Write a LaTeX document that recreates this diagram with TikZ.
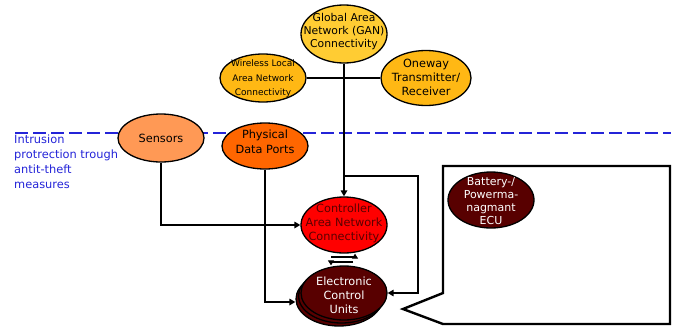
\documentclass[tikz,border=0pt]{standalone}
\usepackage{fontspec}
\setmainfont{DejaVu Sans}
\usetikzlibrary{shapes.geometric,arrows.meta}

\definecolor{ganfill}{HTML}{FFCC33}
\definecolor{wifill}{HTML}{FFB814}
\definecolor{sensfill}{HTML}{FF9955}
\definecolor{portfill}{HTML}{FF6600}
\definecolor{canfill}{HTML}{FF0000}
\definecolor{ecufill}{HTML}{580000}
\definecolor{zoneblue}{HTML}{2424D8}
\definecolor{cantext}{HTML}{5A0000}

\tikzset{
  oval/.style={ellipse, draw=black, line width=1.3pt, inner sep=0pt,
               minimum width=86pt},
  lbl/.style={align=center, inner sep=0pt, font=\fontsize{11.3}{14}\selectfont},
  link/.style={draw=black, line width=1.8pt},
  arr/.style={link, -{Triangle[length=6pt,width=6.5pt]}},
  zoneline/.style={draw=zoneblue, line width=2pt, dash pattern=on 13pt off 5pt}
}

\begin{document}
\begin{tikzpicture}[x=1pt,y=-1pt]
\useasboundingbox (0,0) rectangle (676,329);

% protection boundary
\coordinate (zoneL) at (15,133);
\coordinate (zoneR) at (671,133);
\draw[zoneline] (zoneL) -- (zoneR);
\node[anchor=north west, align=left, inner sep=0pt, text=zoneblue,
      font=\fontsize{11.4}{15}\selectfont] (zone) at (14,135)
  {Intrusion\\protrection trough\\antit-theft\\measures};

% ellipses
\node[oval, minimum height=58pt, fill=ganfill] (gan) at (344,34) {};
\node[oval, minimum height=48pt, fill=wifill] (wlan) at (263,78) {};
\node[oval, minimum width=90pt, minimum height=55pt, fill=wifill] (oneway) at (426,78) {};
\node[oval, minimum height=48pt, fill=sensfill] (sensors) at (161,138) {};
\node[oval, minimum height=46pt, fill=portfill] (pdp) at (265,146) {};
\node[oval, minimum height=56pt, fill=canfill] (can) at (344,225) {};
\node[oval, minimum height=54pt, fill=ecufill] (ecu3) at (339,299) {};
\node[oval, minimum height=54pt, fill=ecufill] (ecu2) at (341.5,296) {};
\node[oval, minimum height=54pt, fill=ecufill] (ecu) at (344,293) {};
\node[oval, minimum height=56pt, fill=ecufill] (bat) at (491,200) {};

% connectors
\draw[link] (wlan.east) -- (oneway.west);
\draw[arr] (gan.south) -- (can.north);
\coordinate (split) at (344,176);
\draw[arr] (split) -- ++(74,0) |- (ecu.east);
\draw[arr] (sensors.south) |- (can.west);
\draw[arr] (pdp.south) |- ([yshift=-3pt]ecu3.west);
\draw[link, -{Triangle[length=5pt,width=6pt]}]
  ([xshift=-13pt,yshift=8pt]ecu.north) -| ([xshift=11pt]can.south);
\draw[link, -{Triangle[length=5pt,width=6pt]}]
  ([xshift=9pt,yshift=-8pt]can.south) -| ([xshift=-13pt]ecu.north);

% callout box
\draw[line width=2.4pt, line join=miter]
  (443,166) -- (670,166) -- (670,324) -- (443,324) -- (403,309) -- (443,293) -- cycle;

% labels
\node[lbl, font=\fontsize{10.8}{13}\selectfont] (gan-t) at (344,32)
  {Global Area\\Network (GAN)\\Connectivity};
\node[lbl, font=\fontsize{9}{14.5}\selectfont] (wlan-t) at (263,79)
  {Wireless Local\\Area Network\\Connectivity};
\node[lbl] (oneway-t) at (426,77)
  {Oneway\\Transmitter/\\Receiver};
\node[lbl] (sensors-t) at (161,138) {Sensors};
\node[lbl, font=\fontsize{11.3}{14.5}\selectfont] (pdp-t) at (265,142)
  {Physical\\Data Ports};
\node[lbl, text=cantext] (can-t) at (344,223)
  {Controller\\Area Network\\Connectivity};
\node[lbl, text=white] (ecu-t) at (344,295)
  {Electronic\\Control\\Units};
\node[lbl, text=white, font=\fontsize{11}{13}\selectfont] (bat-t) at (491,201)
  {Battery-/\\Powerma-\\nagmant\\ECU};
\end{tikzpicture}
\end{document}
